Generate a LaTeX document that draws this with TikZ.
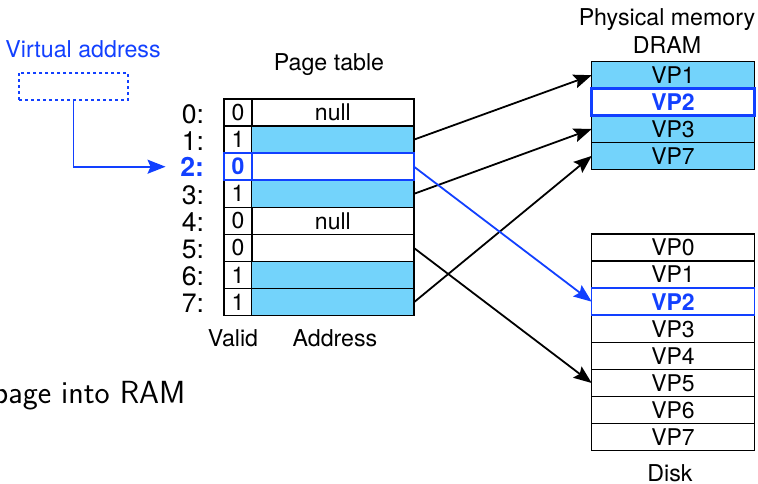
\documentclass[tikz,border=0pt]{standalone}
\usepackage{fontspec}
\setmainfont{TeX Gyre Heros}
\usetikzlibrary{arrows.meta}
\definecolor{cellblue}{HTML}{73D3FB}
\definecolor{hiblue}{HTML}{1240FF}

\begin{document}
\begin{tikzpicture}[x=0.5pt, y=-0.5pt, line width=0.9pt,
    >={Stealth[length=9pt, width=7pt, inset=1.5pt]},
    cell/.style={draw, line width=0.75pt, minimum height=13.5pt, inner sep=0pt, outer sep=0pt, font=\fontsize{11.5}{13}\selectfont},
    vcell/.style={cell, minimum width=13.85pt},
    acell/.style={cell, minimum width=81.15pt},
    mcell/.style={cell, minimum width=81.3pt},
    full/.style={fill=cellblue},
    hi/.style={draw=hiblue, text=hiblue, font=\fontsize{11.5}{13}\selectfont\bfseries},
    lbl/.style={anchor=east, inner sep=0pt, font=\fontsize{13.3}{15}\selectfont},
    txt/.style={font=\fontsize{11.6}{13}\selectfont}]
    \useasboundingbox (0,0) rectangle (758,483);

    % titles
    \node[txt, text=hiblue] (vatitle) at (83,49) {Virtual address};
    \node[txt] (pttitle) at (329,65) {Page table};
    \node[txt] (dramtitle) at (667,19.5) {Physical memory};
    \node[txt] (dramname) at (667,44.7) {DRAM};
    \node[txt] (disktitle) at (670,473) {Disk};
    \node[txt] (validcol) at (233,338.5) {Valid};
    \node[txt] (addrcol) at (335,338.5) {Address};
    \node[anchor=base east, font=\sffamily\fontsize{16}{19}\selectfont] (ram) at (193,403) {page into RAM};

    % virtual address
    \node[draw=hiblue, line width=0.9pt, dash pattern=on 1.5pt off 1.5pt, minimum width=54.5pt, minimum height=13.65pt] (va) at (73.5,86.3) {};

    % page table
    \node[lbl] (l0) at (205,114) {0:};
    \node[lbl] (l1) at (205,141.1) {1:};
    \node[lbl, text=hiblue, font=\fontsize{13.3}{15}\selectfont\bfseries] (l2) at (205,166.7) {2:};
    \node[lbl] (l3) at (205,195.3) {3:};
    \node[lbl] (l4) at (205,222.4) {4:};
    \node[lbl] (l5) at (205,249.5) {5:};
    \node[lbl] (l6) at (205,276.6) {6:};
    \node[lbl] (l7) at (205,303.7) {7:};

    \node[vcell] (v0) at (237.9,112.5) {0};
    \node[acell] (a0) at (332.85,112.5) {null};
    \node[vcell] (v1) at (237.9,139.6) {1};
    \node[acell, full] (a1) at (332.85,139.6) {};
    \node[vcell] (v3) at (237.9,193.8) {1};
    \node[acell, full] (a3) at (332.85,193.8) {};
    \node[vcell] (v4) at (237.9,220.9) {0};
    \node[acell] (a4) at (332.85,220.9) {null};
    \node[vcell] (v5) at (237.9,248.0) {0};
    \node[acell] (a5) at (332.85,248.0) {};
    \node[vcell] (v6) at (237.9,275.1) {1};
    \node[acell, full] (a6) at (332.85,275.1) {};
    \node[vcell] (v7) at (237.9,302.2) {1};
    \node[acell, full] (a7) at (332.85,302.2) {};
    \node[vcell, hi, line width=1pt] (v2) at (237.9,166.7) {0};
    \node[acell, hi, line width=1pt] (a2) at (332.85,166.7) {};

    % DRAM
    \node[mcell, full] (m1) at (673,75.2) {VP1};
    \node[mcell, full] (m3) at (673,129.0) {VP3};
    \node[mcell, full] (m7) at (673,155.9) {VP7};
    \node[mcell, hi, fill=white, line width=1.6pt] (m2) at (673,102.1) {VP2};

    % disk
    \node[mcell] (d0) at (673,247.5) {VP0};
    \node[mcell] (d1) at (673,274.6) {VP1};
    \node[mcell] (d3) at (673,328.8) {VP3};
    \node[mcell] (d4) at (673,355.9) {VP4};
    \node[mcell] (d5) at (673,383.0) {VP5};
    \node[mcell] (d6) at (673,410.1) {VP6};
    \node[mcell] (d7) at (673,437.2) {VP7};
    \node[mcell, hi] (d2) at (673,301.7) {VP2};

    \draw[->, hiblue, shorten >=7pt] (va.south) |- (l2);
    \draw[->] (a1.east) -- (m1.west);
    \draw[->] (a3.east) -- (m3.west);
    \draw[->] (a7.east) -- (m7.west);
    \draw[->] (a5.east) -- (d5.west);
    \draw[->, hiblue] (a2.east) -- (d2.west);
\end{tikzpicture}
\end{document}
